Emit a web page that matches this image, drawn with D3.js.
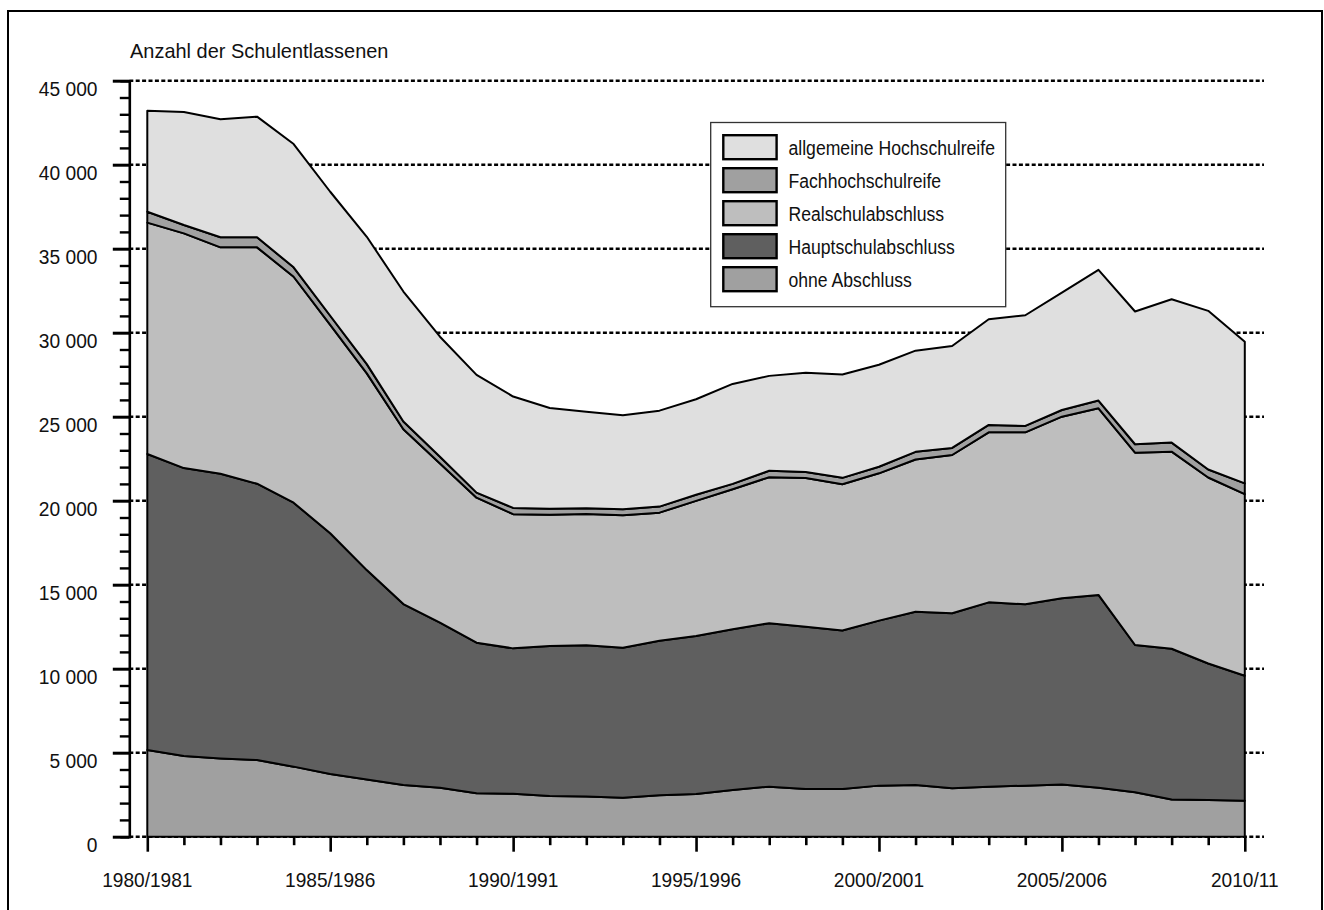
<!DOCTYPE html>
<html>
<head>
<meta charset="utf-8">
<script src="https://cdn.jsdelivr.net/npm/d3@7"></script>
<style>
  html, body { margin: 0; padding: 0; background: #fff; }
  svg { display: block; }
  text { font-family: "Liberation Sans", Arial, sans-serif; fill: #111; }
</style>
</head>
<body>
<svg id="chart" width="1324" height="910"></svg>
<script>
// ---- data ----
const categories = d3.range(1980, 2011).map(y => y === 2010 ? "2010/11" : `${y}/${y + 1}`);
const labeledCategories = ["1980/1981", "1985/1986", "1990/1991", "1995/1996", "2000/2001", "2005/2006", "2010/11"];
const seriesNames = ["ohne Abschluss", "Hauptschulabschluss", "Realschulabschluss", "Fachhochschulreife", "allgemeine Hochschulreife"];
const ohneAbschluss = [5160,4800,4660,4560,4170,3730,3410,3080,2920,2580,2560,2420,2400,2320,2460,2540,2780,2980,2840,2840,3040,3080,2880,2980,3040,3100,2920,2640,2220,2180,2140];
const hauptschulabschluss = [17620,17140,16940,16450,15710,14330,12460,10770,9820,8970,8650,8930,8990,8930,9210,9410,9570,9730,9660,9430,9820,10310,10420,10970,10790,11090,11470,8770,8970,8130,7440];
const realschulabschluss = [13770,13970,13480,14070,13450,12400,11710,10400,9480,8630,7990,7810,7820,7880,7620,8040,8330,8690,8850,8710,8770,9060,9420,10120,10240,10810,11110,11450,11730,11070,10810];
const fachhochschulreife = [650,500,600,600,560,550,550,460,400,300,370,360,340,360,360,360,320,380,360,380,390,460,420,440,380,400,460,500,540,480,640];
const allgemeineHochschulreife = [6010,6730,7020,7180,7340,7380,7580,7740,7140,7010,6630,6000,5750,5590,5710,5690,5950,5650,5910,6150,6070,6020,6070,6290,6590,6980,7780,7900,8530,9440,8430];
const yTickValues = [0,5000,10000,15000,20000,25000,30000,35000,40000,45000];
const yTickLabels = ["0","5 000","10 000","15 000","20 000","25 000","30 000","35 000","40 000","45 000"];
const colors = ["#a0a0a0", "#5f5f5f", "#bebebe", "#a0a0a0", "#dfdfdf"];
const yTitle = "Anzahl der Schulentlassenen";

// ---- build table ----
const seriesValues = [ohneAbschluss, hauptschulabschluss, realschulabschluss, fachhochschulreife, allgemeineHochschulreife];
const table = categories.map((c, i) => {
  const row = { cat: c };
  seriesNames.forEach((s, k) => row[s] = seriesValues[k][i]);
  return row;
});
const stacked = d3.stack().keys(seriesNames)(table);

const svg = d3.select("#chart");

// squeeze helper for condensed-looking text
function squeeze(sel, f) {
  sel.each(function () {
    const w = this.getComputedTextLength();
    d3.select(this).attr("textLength", w * f).attr("lengthAdjust", "spacingAndGlyphs");
  });
}

// outer frame
svg.append("rect").attr("x", 8).attr("y", 11).attr("width", 1314).attr("height", 1000)
  .attr("fill", "none").attr("stroke", "#000").attr("stroke-width", 2);

// scales
const x = d3.scalePoint().domain(categories).range([147.3, 1244.8]);
const y = d3.scaleLinear().domain([0, 45000]).range([836.7, 80.7]);
const axisX = 129.3;

// gridlines (dotted)
svg.append("g").selectAll("line").data(yTickValues).join("line")
  .attr("x1", axisX).attr("x2", 1264)
  .attr("y1", d => y(d)).attr("y2", d => y(d))
  .attr("stroke", "#000").attr("stroke-width", 2.6)
  .attr("stroke-dasharray", "4,2.4");

// areas
const area = d3.area()
  .x(d => x(d.data.cat))
  .y0(d => y(d[0]))
  .y1(d => y(d[1]));

svg.append("g").selectAll("path").data(stacked).join("path")
  .attr("d", area)
  .attr("fill", (d, i) => colors[i])
  .attr("stroke", "#000").attr("stroke-width", 2)
  .attr("stroke-linejoin", "round");

// y axis
const yAxis = d3.axisLeft(y).tickValues(d3.range(0, 45001, 1000)).tickFormat("").tickSizeOuter(0).tickSize(9);
const gy = svg.append("g").attr("transform", `translate(${axisX},0)`).call(yAxis);
gy.select(".domain").attr("stroke", "#000").attr("stroke-width", 2.6);
gy.selectAll(".tick line").attr("stroke", "#000").attr("stroke-width", 2.4)
  .attr("x2", d => (d % 5000 === 0 ? -16.5 : -9.5))
  .attr("stroke-width", d => (d % 5000 === 0 ? 3 : 2.4));
// y labels
const yl = svg.append("g").selectAll("text").data(yTickValues).join("text")
  .attr("x", 97.5).attr("y", d => y(d) + 15)
  .attr("text-anchor", "end")
  .style("font-size", "20px")
  .text((d, i) => yTickLabels[i]);
squeeze(yl, 0.96);

// x axis ticks
const xAxis = d3.axisBottom(x).tickFormat("").tickSizeOuter(0).tickSize(8.5);
const gx = svg.append("g").attr("transform", `translate(0,${y(0)})`).call(xAxis);
gx.select(".domain").remove();
gx.selectAll(".tick line").attr("stroke", "#000")
  .attr("y2", d => (labeledCategories.includes(d) ? 15 : 8.5))
  .attr("stroke-width", 2.6);
const xl = svg.append("g").selectAll("text").data(labeledCategories).join("text")
  .attr("x", d => x(d)).attr("y", 887)
  .attr("text-anchor", "middle")
  .style("font-size", "21px")
  .text(d => d);
squeeze(xl, 0.91);

// y title
const tt = svg.append("text").attr("x", 130).attr("y", 58.3)
  .style("font-size", "21px").text(yTitle);
squeeze(tt, 0.95);

// legend
const legendOrder = [4, 3, 2, 1, 0];
const lg = svg.append("g");
lg.append("rect").attr("x", 710.7).attr("y", 122.5).attr("width", 295).attr("height", 184.2)
  .attr("fill", "#fff").attr("stroke", "#333").attr("stroke-width", 1.3);
const rows = lg.selectAll("g.row").data(legendOrder).join("g").attr("class", "row")
  .attr("transform", (d, i) => `translate(0,${i * 33})`);
rows.append("rect").attr("x", 723.3).attr("y", 135.2).attr("width", 53.3).attr("height", 24)
  .attr("fill", d => colors[d]).attr("stroke", "#000").attr("stroke-width", 2.4);
const lt = rows.append("text").attr("x", 788.5).attr("y", 155)
  .style("font-size", "20px").text(d => seriesNames[d]);
squeeze(lt, 0.88);
</script>
</body>
</html>
